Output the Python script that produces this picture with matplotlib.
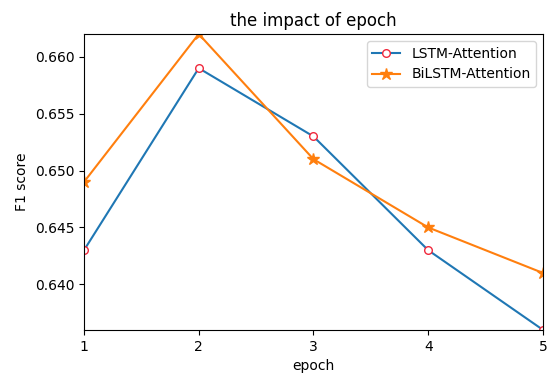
import numpy as np
import matplotlib
matplotlib.use('Agg')
import matplotlib.pyplot as plt

epochs = [1, 2, 3, 4, 5]
lstm_f1 = [0.643, 0.659, 0.653, 0.643, 0.636]
bilstm_f1 = [0.649, 0.662, 0.651, 0.645, 0.641]

fig = plt.figure(figsize=(5.49, 3.74), dpi=100)
ax = fig.add_axes([0.153, 0.118, 0.836, 0.791])

ax.plot(epochs, lstm_f1, '-o', color='#1f77b4', markerfacecolor='w',
        markeredgecolor='#f0283c', markersize=5.5, label='LSTM-Attention')
ax.plot(epochs, bilstm_f1, '-*', color='#ff7f0e', markersize=9,
        label='BiLSTM-Attention')

ax.set_xlim(1, 5)
ax.set_ylim(0.636, 0.662)
ax.set_xticks(epochs)
ax.set_xlabel('epoch')
ax.set_ylabel('F1 score')
ax.set_title('the impact of epoch')
ax.legend(loc='upper right')

fig.savefig('out.png', dpi=100)
